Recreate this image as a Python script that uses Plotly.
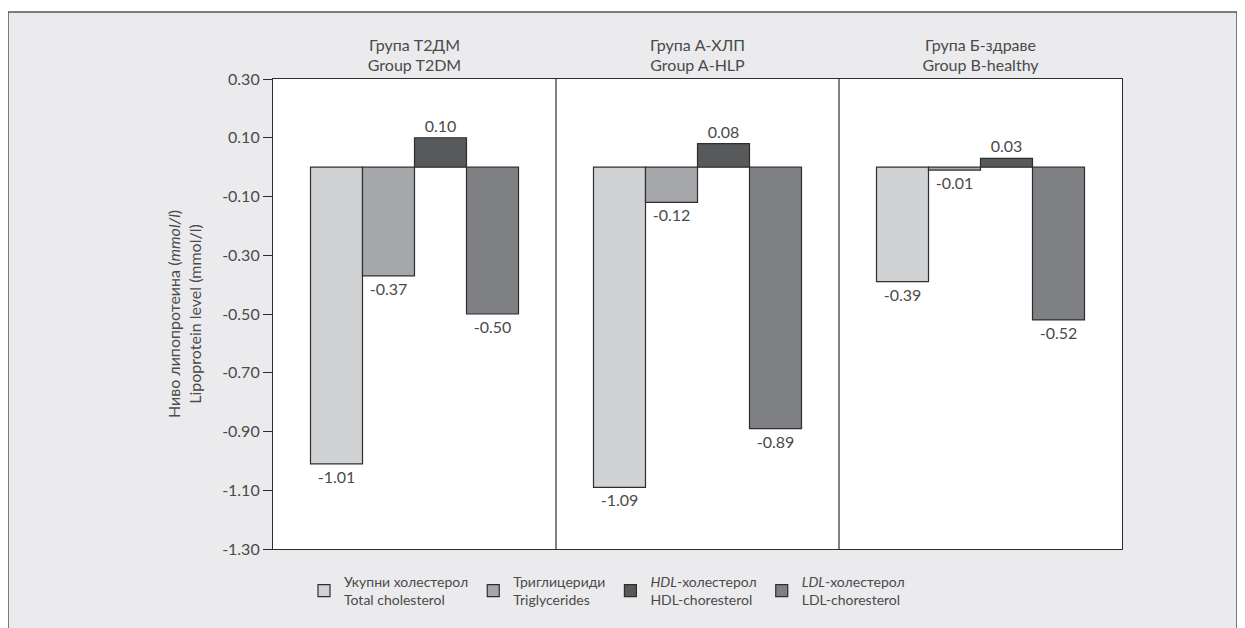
import plotly.graph_objects as go

groups = ["Група Т2ДМ<br>Group T2DM", "Група А-ХЛП<br>Group A-HLP", "Група Б-здраве<br>Group B-healthy"]
series_names = [
    "Укупни холестерол<br>Total cholesterol",
    "Триглицериди<br>Triglycerides",
    "<i>HDL</i>-холестерол<br>HDL-choresterol",
    "<i>LDL</i>-холестерол<br>LDL-choresterol",
]
total_chol = [-1.01, -1.09, -0.39]
triglycerides = [-0.37, -0.12, -0.01]
hdl_chol = [0.10, 0.08, 0.03]
ldl_chol = [-0.50, -0.89, -0.52]
colors = ["#d1d2d4", "#a6a7aa", "#58595b", "#7f8083"]
y_ticks = [0.30, 0.10, -0.10, -0.30, -0.50, -0.70, -0.90, -1.10, -1.30]
y_tick_labels = ["0.30", "0.10", "-0.10", "-0.30", "-0.50", "-0.70", "-0.90", "-1.10", "-1.30"]

FONT = "Lato"
TXT = "#4a4a4a"
FS = 16

fig = go.Figure()
for name, vals, col in zip(series_names, [total_chol, triglycerides, hdl_chol, ldl_chol], colors):
    fig.add_trace(go.Bar(
        x=groups, y=vals, name=name,
        marker=dict(color=col, line=dict(color="#2e2e2e", width=1.2)),
        text=[f"{v:.2f}" for v in vals], textposition="outside",
        textfont=dict(size=FS, color=TXT, family=FONT),
        constraintext="none", cliponaxis=False,
    ))

# page offset from default body margin
OFF = 8
W, H = 1237, 620
L = 273 - OFF
R = W - (1122 - OFF)
T = 79 - OFF
B = H - (549 - OFF)
pw = W - L - R
ph = H - T - B

def px_x(p):
    return (p - OFF - L) / pw

def px_y(p):
    return (H - B - (p - OFF)) / ph

shapes = [
    dict(type="rect", xref="paper", yref="paper", x0=px_x(8), x1=px_x(1237), y0=px_y(660), y1=px_y(12),
         fillcolor="#ebebed", line=dict(color="#555", width=1.5), layer="below"),
    dict(type="rect", xref="paper", yref="paper", x0=0, x1=1, y0=0, y1=1,
         fillcolor="white", line=dict(width=0), layer="below"),
]
for b in [0.5, 1.5]:
    shapes.append(dict(type="line", xref="x", yref="paper", x0=b, x1=b, y0=0, y1=1,
                       line=dict(color="#2e2e2e", width=1.2)))

fig.update_layout(
    width=W, height=H,
    margin=dict(l=L, r=R, t=T, b=B, autoexpand=False),
    paper_bgcolor="white", plot_bgcolor="white",
    font=dict(family=FONT, size=FS, color=TXT),
    barmode="group", bargap=0.265, bargroupgap=0,
    shapes=shapes,
    showlegend=True,
    legend=dict(orientation="h", x=px_x(304), xanchor="left", y=px_y(566), yanchor="top",
                bgcolor="rgba(0,0,0,0)", font=dict(size=14, color=TXT, family=FONT),
                traceorder="normal", valign="middle", itemwidth=30),
    xaxis=dict(side="top", showline=True, mirror=True, linecolor="#2e2e2e", linewidth=1.2,
               ticks="", showgrid=False, tickfont=dict(size=FS, color=TXT, family=FONT)),
    yaxis=dict(range=[-1.30, 0.30], tickvals=y_ticks, ticktext=y_tick_labels,
               showline=True, mirror=True, linecolor="#2e2e2e", linewidth=1.2,
               ticks="outside", ticklen=9, tickcolor="#2e2e2e", tickwidth=1.2,
               showgrid=False, zeroline=False,
               tickfont=dict(size=FS, color=TXT, family=FONT),
               title=dict(text="Ниво липопротеина (<i>mmol/l</i>)<br>Lipoprotein level (mmol/l)",
                          font=dict(size=16, color=TXT, family=FONT), standoff=16)),
)

fig.write_html("out.html")
